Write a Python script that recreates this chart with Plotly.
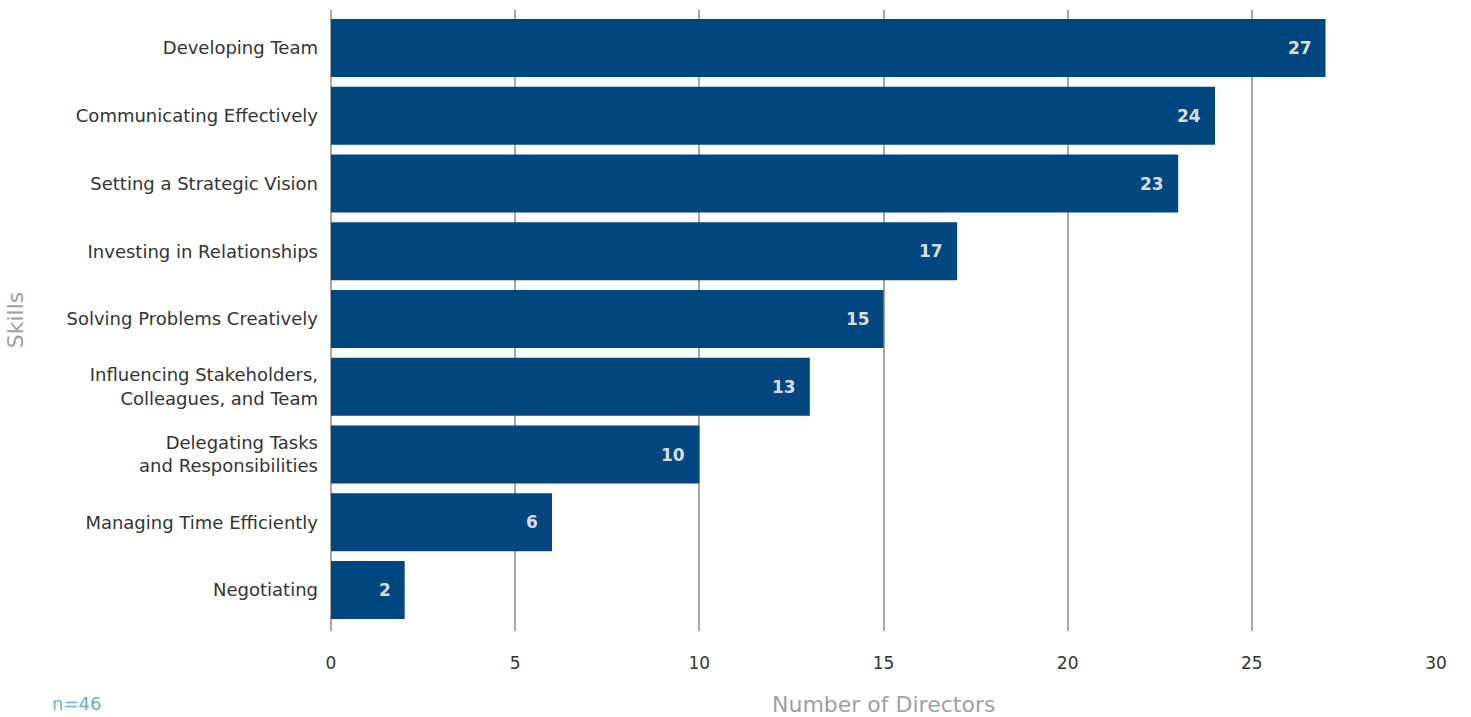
import plotly.graph_objects as go

# Leadership skills and how many directors named each one
skills = [
    "Developing Team",
    "Communicating Effectively",
    "Setting a Strategic Vision",
    "Investing in Relationships",
    "Solving Problems Creatively",
    "Influencing Stakeholders,<br>Colleagues, and Team",
    "Delegating Tasks<br>and Responsibilities",
    "Managing Time Efficiently",
    "Negotiating",
]
directors = [27, 24, 23, 17, 15, 13, 10, 6, 2]
x_ticks = [0, 5, 10, 15, 20, 25, 30]
sample_note = "n=46"

FONT = "DejaVu Sans"
BAR_COLOR = "#00467f"
GRID_COLOR = "#a6a6a6"
TITLE_COLOR = "#a0a0a0"

fig = go.Figure(
    go.Bar(
        x=directors,
        y=skills,
        orientation="h",
        marker=dict(color=BAR_COLOR, line=dict(width=0)),
        hoverinfo="x+y",
    )
)

# value labels sitting just inside the end of each bar
for skill, value in zip(skills, directors):
    fig.add_annotation(
        x=value,
        y=skill,
        text=f"<b>{value}</b>",
        xanchor="right",
        yanchor="middle",
        xshift=-12,
        showarrow=False,
        font=dict(family=FONT, size=17, color="#dcdcdc"),
    )

fig.update_layout(
    width=1471,
    height=717,
    margin=dict(l=331, r=35, t=10, b=86),
    paper_bgcolor="white",
    plot_bgcolor="white",
    bargap=0.144,
    showlegend=False,
    font=dict(family=FONT, color="#333333"),
)

fig.update_xaxes(
    range=[0, 30],
    tickvals=x_ticks,
    ticktext=[str(t) for t in x_ticks],
    showgrid=True,
    gridcolor=GRID_COLOR,
    gridwidth=1.5,
    zeroline=True,
    zerolinecolor=GRID_COLOR,
    zerolinewidth=1.5,
    ticks="",
    tickfont=dict(family=FONT, size=17, color="#333333"),
    ticklabelstandoff=20,
    automargin=False,
    showline=False,
)

fig.update_yaxes(
    categoryorder="array",
    categoryarray=skills[::-1],
    range=[-0.605, 8.561],
    showgrid=False,
    ticks="",
    showline=False,
    tickfont=dict(family=FONT, size=18, color="#333333"),
    ticklabelstandoff=12,
    automargin=False,
)

# axis titles placed as free text so they sit at the page edges
fig.add_annotation(
    text="Number of Directors",
    xref="paper",
    yref="paper",
    x=0.5,
    y=-0.119,
    xanchor="center",
    yanchor="middle",
    showarrow=False,
    font=dict(family=FONT, size=22, color=TITLE_COLOR),
)

fig.add_annotation(
    text="Skills",
    xref="paper",
    yref="paper",
    x=-0.286,
    y=0.502,
    xanchor="center",
    yanchor="middle",
    textangle=-90,
    showarrow=False,
    font=dict(family=FONT, size=22, color=TITLE_COLOR),
)

fig.add_annotation(
    text=sample_note,
    xref="paper",
    yref="paper",
    x=-0.254,
    y=-0.1175,
    xanchor="left",
    yanchor="middle",
    showarrow=False,
    font=dict(family=FONT, size=18, color="#6aade4"),
)

fig.write_html("out.html")
